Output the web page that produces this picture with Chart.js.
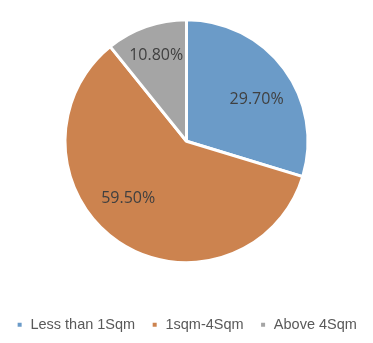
<!DOCTYPE html>
<html>
<head>
<meta charset="utf-8">
<script src="https://cdn.jsdelivr.net/npm/chart.js@4"></script>
<style>
html,body{margin:0;padding:0;background:#fff;overflow:hidden;}
#wrap{width:373px;height:343px;position:relative;overflow:hidden;}
#c{position:absolute;left:0;top:-19px;}
</style>
</head>
<body>
<div id="wrap"><canvas id="c" width="373" height="361"></canvas></div>
<script>
const categories = ["Less than 1Sqm", "1sqm-4Sqm", "Above 4Sqm"];
const shares = [29.7, 59.5, 10.8];
const valueLabels = ["29.70%", "59.50%", "10.80%"];
const sliceColors = ["#6b9bc8", "#cc834f", "#a5a5a5"];

// label placement relative to each arc (fraction of radius, angle offset in degrees)
const labelPlace = [
  {r: 0.67, da: 6},
  {r: 0.67, da: 11.7},
  {r: 0.75, da: 0}
];

const labelPlugin = {
  id: 'sliceLabels',
  afterDatasetsDraw(chart) {
    const ctx = chart.ctx;
    const meta = chart.getDatasetMeta(0);
    ctx.save();
    ctx.font = '16px "Open Sans"';
    ctx.fillStyle = '#404040';
    ctx.textAlign = 'center';
    ctx.textBaseline = 'middle';
    meta.data.forEach((arc, i) => {
      const p = arc.getProps(['x','y','startAngle','endAngle','outerRadius'], true);
      const mid = (p.startAngle + p.endAngle) / 2 + labelPlace[i].da * Math.PI / 180;
      const d = p.outerRadius * labelPlace[i].r;
      ctx.fillText(valueLabels[i], p.x + Math.cos(mid) * d, p.y + Math.sin(mid) * d);
    });
    ctx.restore();
  }
};

new Chart(document.getElementById('c'), {
  type: 'pie',
  data: {
    labels: categories,
    datasets: [{
      data: shares,
      backgroundColor: sliceColors,
      borderColor: '#ffffff',
      borderWidth: 3,
      hoverOffset: 0
    }]
  },
  options: {
    responsive: false,
    animation: false,
    radius: 121.5,
    layout: { padding: 0 },
    plugins: {
      tooltip: { enabled: false },
      legend: {
        position: 'bottom',
        labels: {
          boxWidth: 7,
          boxHeight: 7,
          padding: 16,
          color: '#595959',
          font: { family: '"Liberation Sans", Arial, sans-serif', size: 14.5 }
        }
      }
    }
  },
  plugins: [labelPlugin]
});
</script>
</body>
</html>
